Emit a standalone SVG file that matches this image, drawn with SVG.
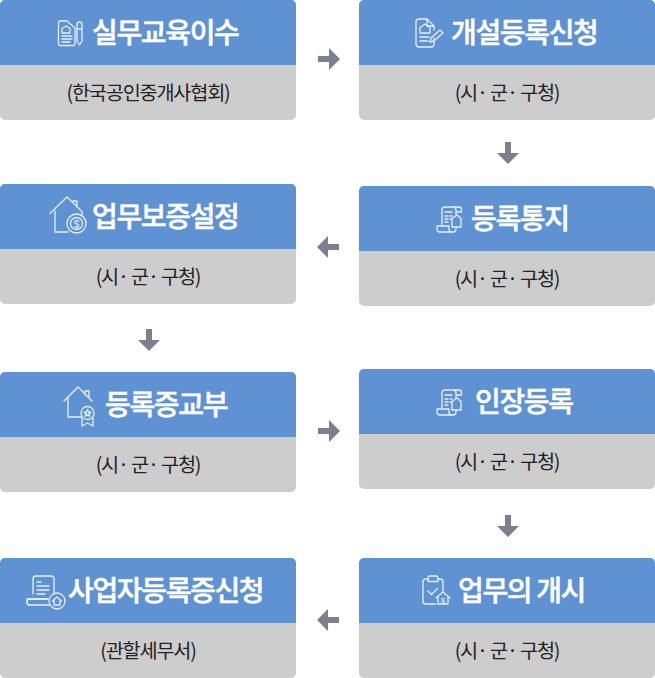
<svg xmlns="http://www.w3.org/2000/svg" width="655" height="678" viewBox="0 0 655 678">
<style>
.h{fill:#5e92d3}.b{fill:#cdcdcd}
.t{font-family:"Noto Sans CJK KR","Noto Sans",sans-serif;font-size:28px;font-weight:500;fill:#fff;letter-spacing:-1.35px;stroke:#fff;stroke-width:.5px}
.s{font-family:"Noto Sans CJK KR","Noto Sans",sans-serif;font-size:19.700px;font-weight:400;fill:#222;letter-spacing:-1.200px;text-anchor:middle}
.i{fill:none;stroke:#e6effa;stroke-width:1.300;stroke-linejoin:round;stroke-linecap:round}
.a{fill:#7d7f8f}
</style>
<defs>
<clipPath id="cc"><rect width="296" height="120" rx="5"/></clipPath>
<g id="card" clip-path="url(#cc)"><rect class="b" width="296" height="120"/><rect class="h" width="296" height="65"/></g>
<polygon id="ar" points="-11,-3 0,-3 0,-11 11,0 0,11 0,3 -11,3"/>
<g id="scroll" class="i"><path d="M86 21H100a2.500 2.500 0 0 1 2.500 2.500V26H97M86 21a3 3 0 0 0-3 3V40M97 26V24a3 3 0 0 0-3-3M97 26V29M97 42V43a3 3 0 0 1-3 3H81a3 3 0 0 1-3-3V40H90V43a3 3 0 0 0 3 3"/><path d="M86 26H93M86 30H89M91 30H93M86 33H89M91 33H93M86 36H89"/><path d="M98 29l4 3.500V41H93V32.500Z"/></g>
</defs>
<g id="connectors" class="a">
<use href="#ar" transform="translate(329 59)"/>
<use href="#ar" transform="translate(508 153) rotate(90)"/>
<use href="#ar" transform="translate(328 247) rotate(180)"/>
<use href="#ar" transform="translate(149 340) rotate(90)"/>
<use href="#ar" transform="translate(329 431)"/>
<use href="#ar" transform="translate(508 526) rotate(90)"/>
<use href="#ar" transform="translate(328 620) rotate(180)"/>
</g>
<g id="n1"><use href="#card"/>
<g class="i"><path d="M67 21H60a1.500 1.500 0 0 0-1.500 1.500V44a1.500 1.500 0 0 0 1.500 1.500H73.500a1.500 1.500 0 0 0 1.500-1.500V28Z"/><path d="M62 33V28.500L66 26l4 2.500V33ZM62 36H72M62 39H72M62 42H70"/><path d="M77 24.500a2.500 2.500 0 0 1 5 0V41l-2.500 4-2.500-4ZM77 29H82"/></g>
<text class="t" x="92" y="42.500">실무교육이수</text><text class="s" x="148" y="100">(한국공인중개사협회)</text></g>
<g id="n2" transform="translate(359 0)"><use href="#card"/>
<g class="i"><path d="M68 19H60a3 3 0 0 0-3 3V44a3 3 0 0 0 3 3H72a3 3 0 0 0 3-3V38M68 19l7 7V30M68 19V26H75"/><path d="M61 33V27.500L66 24l5 3.500V33ZM61 37H70M61 41H69"/><path d="M72 38L81 30l3 3L75 41l-4 1Z"/></g>
<text class="t" x="92" y="42.500">개설등록신청</text><text class="s" x="148" y="100">(시· 군· 구청)</text></g>
<g id="n3" transform="translate(359 186)"><use href="#card"/><use href="#scroll"/>
<text class="t" x="112" y="42.500">등록통지</text><text class="s" x="148" y="100">(시· 군· 구청)</text></g>
<g id="n4" transform="translate(0 184)"><use href="#card"/>
<g class="i"><path d="M50 29.500L67 13l14 13.500M55 27V48H68M77 17V23M77 17H73M82 27.500V32"/><circle cx="76.500" cy="39.500" r="9.500"/><circle cx="76.500" cy="39.500" r="6"/></g>
<text x="76.500" y="43.500" font-family="Liberation Sans,sans-serif" font-size="10" fill="#e6effa" text-anchor="middle">$</text>
<text class="t" x="92" y="42.500">업무보증설정</text><text class="s" x="148" y="100">(시· 군· 구청)</text></g>
<g id="n5" transform="translate(0 372)"><use href="#card"/>
<g class="i"><path d="M64 29L78 15l14 14M68 26V45H81M85 19V23M85 19H89V26"/><circle cx="87.500" cy="41" r="6.500"/><path d="M87.500 37.500l1 2.500 2.500.2-2 1.600.7 2.500-2.200-1.400-2.200 1.400.7-2.500-2-1.600 2.500-.2Z"/><path d="M82 46V54l5.500-3 5.500 3V46"/></g>
<text class="t" x="105" y="42.500">등록증교부</text><text class="s" x="148" y="100">(시· 군· 구청)</text></g>
<g id="n6" transform="translate(359 369)"><use href="#card"/><use href="#scroll"/>
<text class="t" x="116" y="42.500">인장등록</text><text class="s" x="148" y="100">(시· 군· 구청)</text></g>
<g id="n7" transform="translate(359 558)"><use href="#card"/>
<g class="i"><path d="M69 21H67a3 3 0 0 0-3 3V43a3 3 0 0 0 3 3H77M79 21H81a3 3 0 0 1 3 3V33"/><path d="M69 21C69 19 70 18 71 18H77C78 18 79 19 79 21V23.500H69Z"/><path d="M69 33l3.500 3.500 6-6"/><path d="M77 40L84 34l7 6M79 39V46H89V39"/></g>
<text x="84" y="45" font-family="Liberation Sans,sans-serif" font-size="8" fill="#e6effa" text-anchor="middle">$</text>
<text class="t" x="99" y="42.500">업무의 개시</text><text class="s" x="148" y="100">(시· 군· 구청)</text></g>
<g id="n8" transform="translate(0 558)"><use href="#card"/>
<g class="i"><path d="M33 36V21a3 3 0 0 1 3-3H51a3 3 0 0 1 3 3V36"/><path d="M37 24H41M37 28H49M37 32H49M37 36H45"/><path d="M47 41H30a3 3 0 0 0-3 3 3 3 0 0 0 3 3H50"/><path d="M30 47a3 3 0 0 1-3-3V41H48"/><circle cx="57" cy="43" r="8"/><path d="M52.500 43L57 39l4.500 4M54 42V47H60V42"/></g>
<text class="t" x="68" y="42.500">사업자등록증신청</text><text class="s" x="148" y="100">(관할세무서)</text></g>
</svg>
